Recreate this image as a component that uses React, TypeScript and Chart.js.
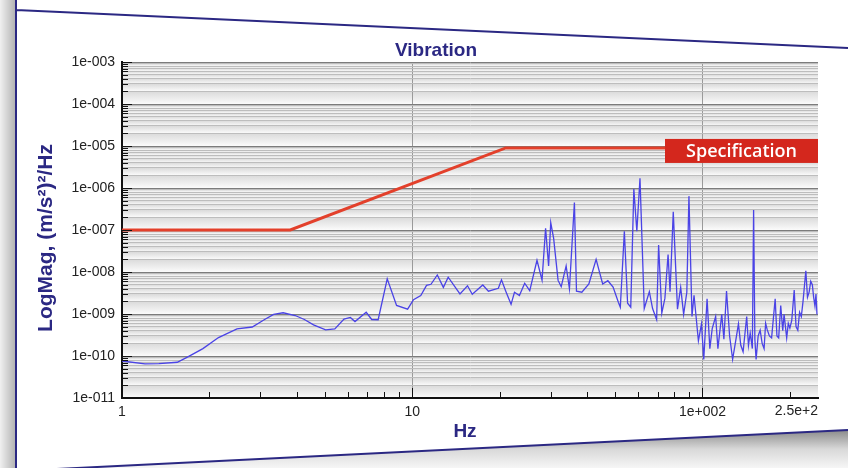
import React, { useEffect, useRef } from 'react';
import { Chart, registerables } from 'chart.js';

Chart.register(...registerables);

// ---- Data ----
const freqHz = [
  1, 1.2, 1.34, 1.55, 1.68, 1.9, 2.15, 2.49, 2.81, 3.1, 3.33, 3.59, 3.95, 4.25, 4.57, 5.03, 5.41, 5.82, 6.12, 6.35,
  6.94, 7.25, 7.63, 8.2, 8.83, 9.64, 10.1, 10.7, 11.2, 11.6, 12.2, 12.8, 13.3, 14.6, 15.5, 16.1, 17.5, 18.3, 19.8, 20.3,
  21.0, 21.9, 22.5, 23.4, 24.4, 25.4, 26.9, 28.0, 28.8, 29.5, 30.0, 30.7, 31.8, 32.6, 33.9, 34.8, 36.2, 36.8, 38.4, 40.6,
  43.0, 45.3, 47.2, 49.2, 51.3, 52.1, 53.8, 55.2, 56.6, 58.0, 59.4, 60.9, 63.0, 65.6, 67.3, 69.5, 70.6, 72.4, 74.2, 76.1,
  77.3, 79.3, 82.0, 84.1, 86.1, 88.3, 89.8, 92.0, 93.5, 96.8, 99.2, 101, 103.7, 106, 108, 111, 113, 116.5, 118.5, 121,
  124, 127, 130, 133, 135.5, 138, 142, 144, 146, 148.5, 150, 151.5, 153, 155.5, 158, 160.5, 163, 165, 167, 170,
  173, 175.5, 178, 180.5, 183, 186, 189, 191, 195, 197.5, 200, 203, 207, 210, 213, 216, 219, 222, 227, 230,
  233, 236, 239, 241.5, 244, 246, 248,
];
const magnitude = [
  7.6e-11, 6.5e-11, 6.6e-11, 7.1e-11, 9.4e-11, 1.5e-10, 2.75e-10, 4.4e-10, 4.9e-10, 7.4e-10, 9.8e-10, 1.07e-9, 9.2e-10, 7.4e-10, 5.5e-10, 4.2e-10, 4.4e-10, 7.6e-10, 8.3e-10, 6.6e-10,
  1.1e-9, 7.4e-10, 7.3e-10, 6.9e-9, 1.6e-9, 1.3e-9, 2.2e-9, 2.75e-9, 4.8e-9, 5.1e-9, 8.5e-9, 4.3e-9, 7.5e-9, 3.0e-9, 4.7e-9, 2.95e-9, 4.9e-9, 3.5e-9, 4.1e-9, 6.5e-9,
  3.5e-9, 1.7e-9, 3.3e-9, 2.75e-9, 5.4e-9, 3.6e-9, 1.9e-8, 6.4e-9, 1.1e-7, 1.4e-8, 1.5e-7, 6.3e-8, 6.3e-9, 4.5e-9, 1.4e-8, 4.0e-9, 4.5e-7, 3.5e-9, 3.3e-9, 5.2e-9,
  2.0e-8, 5.2e-9, 6.2e-9, 4.4e-9, 1.9e-9, 1.45e-9, 9.3e-8, 1.8e-9, 1.45e-9, 9.5e-7, 9.3e-8, 1.7e-6, 1.35e-9, 3.4e-9, 1.35e-9, 7.4e-10, 4.4e-8, 1.05e-9, 2.35e-9, 2.6e-8,
  3.4e-9, 2.7e-7, 1.3e-9, 4.3e-9, 9.8e-10, 3.3e-9, 6.4e-7, 8.7e-10, 2.8e-9, 2.3e-10, 5.8e-10, 8.3e-11, 2.3e-9, 1.5e-10, 4.5e-10, 8.7e-10, 1.5e-10, 9.8e-10, 2.5e-10, 3.5e-9,
  3.0e-10, 8.3e-11, 2.2e-10, 5.8e-10, 1.8e-10, 1.26e-10, 8.7e-10, 1.8e-10, 3.5e-10, 1.5e-10, 3.0e-7, 2.5e-10, 8.3e-11, 3.0e-10, 4.1e-10, 2.0e-10, 1.5e-10, 6.0e-10, 4.3e-10, 3.0e-10,
  2.7e-10, 8.0e-10, 2.3e-9, 3.0e-10, 2.7e-10, 1.6e-9, 4.0e-10, 9.8e-10, 2.7e-10, 6.0e-10, 4.6e-10, 7.0e-10, 3.7e-9, 5.0e-10, 4.1e-10, 1.1e-9, 8.7e-10, 2.0e-9, 1.07e-8, 2.5e-9,
  3.3e-9, 6.0e-9, 5.0e-9, 2.5e-9, 1.55e-9, 3.0e-9, 9.8e-10,
];
const specFreqHz = [1, 3.8, 21, 250];
const specMagnitude = [1e-7, 1e-7, 9e-6, 9e-6];

const xMin = 1;
const xMax = 250;
const xTickValues = [1, 2, 3, 4, 5, 6, 7, 8, 9, 10, 20, 30, 40, 50, 60, 70, 80, 90, 100, 200, 250];
const xMajorValues = [1, 10, 100];
const xTickLabels: Record<number, string> = { 1: '1', 10: '10', 100: '1e+002' };
const xEndLabel = '2.5e+2';

const yMinExp = -11;
const yMaxExp = -3;

const chartTitle = 'Vibration';
const xTitle = 'Hz';
const yTitle = 'LogMag, (m/s\u00B2)\u00B2/Hz';
const specLabel = 'Specification';

// ---- helpers ----
const yTickValues: number[] = [];
for (let e = yMinExp; e < yMaxExp; e++) {
  for (let m = 1; m <= 9; m++) yTickValues.push(Number(`${m}e${e}`));
}
yTickValues.push(Number(`1e${yMaxExp}`));

const isDecade = (v: number) => {
  const l = Math.log10(v);
  return Math.abs(l - Math.round(l)) < 1e-6;
};
const yLabel = (v: number) => {
  if (!isDecade(v)) return '';
  const e = Math.round(Math.log10(v));
  const s = String(Math.abs(e)).padStart(3, '0');
  return `1e${e < 0 ? '-' : '+'}${s}`;
};

const NAVY = '#2b2883';
const TICK_FONT = '14px "Liberation Sans", Arial, sans-serif';

const decorPlugin = {
  id: 'decor',
  beforeDraw(chart: any) {
    const { ctx, chartArea } = chart;
    const W = chart.width;
    const H = chart.height;
    ctx.save();
    ctx.fillStyle = '#ffffff';
    ctx.fillRect(0, 0, W, H);

    // card shadow on the left
    const lg = ctx.createLinearGradient(0, 0, 15, 0);
    lg.addColorStop(0, '#f0f0f0');
    lg.addColorStop(1, '#b4b4b4');
    ctx.fillStyle = lg;
    ctx.fillRect(0, 0, 15, H);

    // bottom shadow below the card edge
    const bg = ctx.createLinearGradient(0, 430, 0, 468);
    bg.addColorStop(0, '#8a8a8a');
    bg.addColorStop(0.5, '#d8d8d8');
    bg.addColorStop(1, '#f6f6f6');
    ctx.fillStyle = bg;
    ctx.beginPath();
    ctx.moveTo(16, 471);
    ctx.lineTo(W, 430);
    ctx.lineTo(W, H);
    ctx.lineTo(16, H);
    ctx.closePath();
    ctx.fill();

    // card borders
    ctx.strokeStyle = NAVY;
    ctx.lineWidth = 2;
    ctx.beginPath();
    ctx.moveTo(16, 0);
    ctx.lineTo(16, H);
    ctx.moveTo(16, 10);
    ctx.lineTo(W, 48);
    ctx.moveTo(16, 471);
    ctx.lineTo(W, 430);
    ctx.stroke();

    // striped plot background
    const y = chart.scales.y;
    const pix = yTickValues.map((v) => y.getPixelForValue(v)).sort((a, b) => a - b);
    for (let i = 0; i < pix.length - 1; i++) {
      const t = pix[i];
      const b = pix[i + 1];
      const g = ctx.createLinearGradient(0, t, 0, b);
      g.addColorStop(0, '#dadada');
      g.addColorStop(1, '#fbfbfb');
      ctx.fillStyle = g;
      ctx.fillRect(chartArea.left, t, chartArea.right - chartArea.left, b - t);
    }
    ctx.restore();
  },
  afterDraw(chart: any) {
    const { ctx, chartArea } = chart;
    const xs = chart.scales.x;
    const ys = chart.scales.y;
    ctx.save();

    // inward tick marks
    ctx.strokeStyle = '#111';
    ctx.lineWidth = 1;
    ctx.beginPath();
    yTickValues.forEach((v) => {
      const p = Math.round(ys.getPixelForValue(v)) + 0.5;
      const len = isDecade(v) ? 10 : 6;
      ctx.moveTo(chartArea.left, p);
      ctx.lineTo(chartArea.left + len, p);
    });
    xTickValues.forEach((v) => {
      if (v === xMin || v === xMax) return;
      const p = Math.round(xs.getPixelForValue(v)) + 0.5;
      const len = xMajorValues.includes(v) ? 10 : 6;
      ctx.moveTo(p, chartArea.bottom);
      ctx.lineTo(p, chartArea.bottom - len);
    });
    ctx.stroke();

    // end label of the x axis
    ctx.fillStyle = '#222';
    ctx.font = TICK_FONT;
    ctx.textAlign = 'right';
    ctx.textBaseline = 'top';
    ctx.fillText(xEndLabel, chartArea.right, chartArea.bottom + 6);

    // titles
    ctx.fillStyle = NAVY;
    ctx.textAlign = 'center';
    ctx.textBaseline = 'middle';
    ctx.font = 'bold 19px "Liberation Sans", Arial, sans-serif';
    ctx.fillText(chartTitle, 436, 51);
    ctx.font = 'bold 19px "Liberation Sans", Arial, sans-serif';
    ctx.fillText(xTitle, 465, 432);
    ctx.save();
    ctx.translate(46, 238);
    ctx.rotate(-Math.PI / 2);
    ctx.font = 'bold 21px "Liberation Sans", Arial, sans-serif';
    ctx.fillText(yTitle, 0, 0);
    ctx.restore();

    // specification label
    const sy = ys.getPixelForValue(specMagnitude[specMagnitude.length - 1]);
    const bw = 153;
    const bh = 24;
    const bx = chartArea.right - bw;
    const by = sy - 9;
    ctx.fillStyle = '#d4271d';
    ctx.fillRect(bx, by, bw, bh);
    ctx.fillStyle = '#ffffff';
    ctx.font = '600 18px "Open Sans", "Liberation Sans", sans-serif';
    ctx.fillText(specLabel, bx + bw / 2, by + bh / 2 + 1);
    ctx.restore();
  },
};

export default function App() {
  const canvasRef = useRef<HTMLCanvasElement | null>(null);

  useEffect(() => {
    document.body.style.margin = '0';
    const canvas = canvasRef.current;
    if (!canvas) return;

    const chart = new Chart(canvas, {
      type: 'line',
      data: {
        datasets: [
          {
            label: 'Specification',
            data: specFreqHz.map((f, i) => ({ x: f, y: specMagnitude[i] })),
            borderColor: '#e3402b',
            borderWidth: 3,
            pointRadius: 0,
            tension: 0,
          },
          {
            label: 'Vibration',
            data: freqHz.map((f, i) => ({ x: f, y: magnitude[i] })),
            borderColor: '#4a43e6',
            borderWidth: 1.3,
            pointRadius: 0,
            tension: 0,
          },
        ],
      },
      options: {
        animation: false,
        responsive: true,
        maintainAspectRatio: false,
        events: [],
        layout: { padding: { left: 0, right: 30, top: 62, bottom: 0 } },
        plugins: {
          legend: { display: false },
          tooltip: { enabled: false },
          title: { display: false },
        },
        scales: {
          x: {
            type: 'logarithmic',
            min: xMin,
            max: xMax,
            afterBuildTicks: (scale: any) => {
              scale.ticks = xTickValues.map((v) => ({ value: v }));
            },
            afterFit: (scale: any) => {
              scale.height = 70;
            },
            ticks: {
              autoSkip: false,
              maxRotation: 0,
              minRotation: 0,
              padding: 6,
              color: '#222',
              font: { family: '"Liberation Sans", Arial, sans-serif', size: 14 },
              callback: (v: any) => xTickLabels[Number(v)] ?? '',
            },
            grid: {
              drawTicks: false,
              lineWidth: 1,
              color: (c: any) =>
                c.tick && (c.tick.value === 10 || c.tick.value === 100) ? '#9a9a9a' : 'rgba(0,0,0,0)',
            },
            border: { display: true, color: '#111', width: 2 },
          },
          y: {
            type: 'logarithmic',
            min: Number(`1e${yMinExp}`),
            max: Number(`1e${yMaxExp}`),
            afterBuildTicks: (scale: any) => {
              scale.ticks = yTickValues.map((v) => ({ value: v }));
            },
            afterFit: (scale: any) => {
              scale.width = 122;
            },
            ticks: {
              autoSkip: false,
              padding: 7,
              color: '#222',
              font: { family: '"Liberation Sans", Arial, sans-serif', size: 14 },
              callback: (v: any) => yLabel(Number(v)),
            },
            grid: {
              drawTicks: false,
              lineWidth: 1,
              color: (c: any) => (c.tick && isDecade(c.tick.value) ? '#7c7c7c' : '#bdbdbd'),
            },
            border: { display: true, color: '#111', width: 2 },
          },
        },
      },
      plugins: [decorPlugin],
    } as any);

    return () => chart.destroy();
  }, []);

  return (
    <div style={{ position: 'relative', width: 848, height: 468 }}>
      <canvas ref={canvasRef} />
    </div>
  );
}
